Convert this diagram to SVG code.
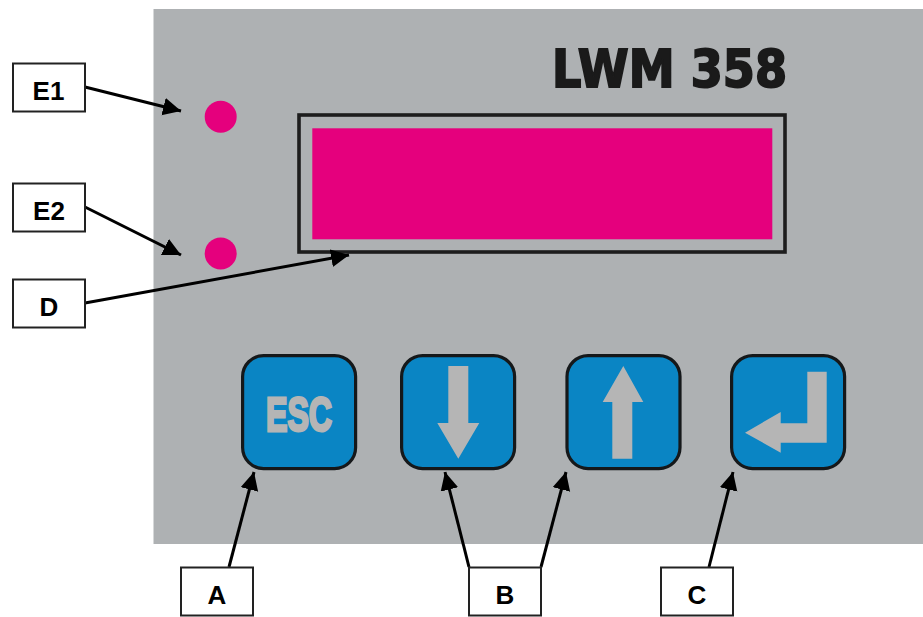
<svg xmlns="http://www.w3.org/2000/svg" width="923" height="617" viewBox="0 0 923 617">
<defs>
<marker id="ah" markerUnits="userSpaceOnUse" markerWidth="20" markerHeight="20" refX="18" refY="9" orient="auto"><path d="M0,0L18,9L0,18Z" fill="#000"/></marker>
</defs>
<style>
.lb{fill:#fff;stroke:#222;stroke-width:2}
.lt{font-family:"Liberation Sans",Arial,sans-serif;font-weight:bold;font-size:26px;fill:#000;text-anchor:middle}
.btn{fill:#0a85c4;stroke:#15181a;stroke-width:3.2}
.gl{fill:#b5b5b5}
.led{fill:#e5007d}
.cn{stroke:#000;stroke-width:3;fill:none;marker-end:url(#ah)}
</style>
<rect width="923" height="617" fill="#fff"/>
<g id="panel"><rect x="153.5" y="9" width="769.5" height="535" fill="#aeb1b3"/></g>
<g id="title"><text x="552" y="86.5" font-family="'DejaVu Sans',sans-serif" font-weight="bold" font-size="51" fill="#1a1a1a" stroke="#1a1a1a" stroke-width="2" textLength="235" lengthAdjust="spacingAndGlyphs">LWM 358</text></g>
<g id="display"><rect x="299" y="115" width="486" height="137" fill="none" stroke="#1d1d1d" stroke-width="3.6"/><rect class="led" x="312.3" y="128.3" width="460" height="111"/></g>
<g id="led-e1"><circle class="led" cx="220.7" cy="116.7" r="16"/></g>
<g id="led-e2"><circle class="led" cx="220.7" cy="253.5" r="16"/></g>
<g id="btn-esc"><rect class="btn" x="242.6" y="355.6" width="113" height="113" rx="21"/><text x="266" y="430.5" font-family="'Liberation Sans',sans-serif" font-weight="bold" font-size="48" fill="#b5b5b5" stroke="#b5b5b5" stroke-width="3" textLength="66" lengthAdjust="spacingAndGlyphs">ESC</text></g>
<g id="btn-down"><rect class="btn" x="401.6" y="355.6" width="113" height="113" rx="21"/><polygon class="gl" points="448.3,366 468.3,366 468.3,423 479.3,423 458.3,458.7 437.3,423 448.3,423"/></g>
<g id="btn-up"><rect class="btn" x="567" y="355.6" width="113" height="113" rx="21"/><polygon class="gl" points="612.3,458.7 632.3,458.7 632.3,402 643.3,402 623.3,366 602.7,402 612.3,402"/></g>
<g id="btn-enter"><rect class="btn" x="731.6" y="355.6" width="113" height="113" rx="21"/><polygon class="gl" points="807.3,371.7 826.7,371.7 826.7,442.7 780.7,442.7 780.7,452.7 745,432.7 780.7,412 780.7,423.3 807.3,423.3"/></g>
<g id="connectors">
<line class="cn" x1="85" y1="87" x2="181" y2="111"/>
<line class="cn" x1="85" y1="207" x2="181" y2="255"/>
<line class="cn" x1="85" y1="303" x2="349" y2="255"/>
<line class="cn" x1="229" y1="567" x2="254" y2="472"/>
<line class="cn" x1="469" y1="567" x2="445" y2="472"/>
<line class="cn" x1="541" y1="567" x2="566" y2="472"/>
<line class="cn" x1="709" y1="567" x2="733" y2="472"/>
</g>
<g id="label-e1"><rect class="lb" x="13" y="63.5" width="72" height="48"/><text class="lt" x="48.5" y="99.5">E1</text></g>
<g id="label-e2"><rect class="lb" x="13" y="183.5" width="72" height="48"/><text class="lt" x="49" y="219.5">E2</text></g>
<g id="label-d"><rect class="lb" x="13" y="279.5" width="72" height="48"/><text class="lt" x="49" y="315.5">D</text></g>
<g id="label-a"><rect class="lb" x="181" y="567.5" width="72" height="48"/><text class="lt" x="217" y="603.5">A</text></g>
<g id="label-b"><rect class="lb" x="469" y="567.5" width="72" height="48"/><text class="lt" x="505" y="603.5">B</text></g>
<g id="label-c"><rect class="lb" x="661" y="567.5" width="72" height="48"/><text class="lt" x="697" y="603.5">C</text></g>
</svg>
